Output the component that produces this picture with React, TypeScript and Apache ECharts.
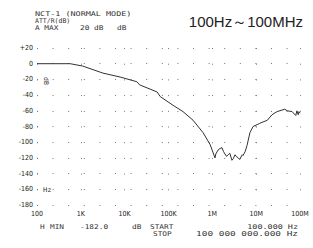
import React, { useEffect, useRef } from 'react';
import * as echarts from 'echarts';

const freqHz = [100, 570, 1100, 3200, 7900, 19000, 22000, 55000, 65000, 127000, 214000, 363000, 617000, 890000, 1150000, 1200000, 1350000, 1500000, 1660000, 1800000, 2100000, 2300000, 2500000, 2800000, 3000000, 3300000, 3500000, 3900000, 4200000, 4800000, 5000000, 5600000, 6200000, 7200000, 8500000, 12000000, 18000000, 23000000, 30000000, 45000000, 51000000, 66000000, 80000000, 85000000, 91000000, 95000000, 100000000];
const levelDb = [0, 0, -3, -12, -17, -23, -27, -36, -42, -53, -61, -72, -88, -103, -120, -115, -110, -108, -107, -112, -118, -116, -114, -123, -121, -116, -118, -120, -122, -116, -117, -112, -104, -88, -80, -76, -72, -65, -61, -58, -60, -61, -66, -60, -65, -61, -63];

const xTickValues = [100, 1000, 10000, 100000, 1000000, 10000000, 100000000];
const xTickLabels = ['100', '1K', '10K', '100K', '1M', '10M', '100M'];

const title = '100Hz～100MHz';
const headerLines = ['NCT-1 (NORMAL MODE)', 'ATT/R(dB)'];

const MONO = "'DejaVu Sans Mono', monospace";
const NARROW = "'Liberation Sans Narrow', 'DejaVu Sans Condensed', 'Liberation Sans', sans-serif";

function txt(text: string, x: number, y: number, opts: any = {}) {
  return {
    type: 'text',
    x,
    y,
    scaleX: opts.scaleX ?? 1.2,
    rotation: opts.rotation ?? 0,
    style: {
      text,
      fill: '#333',
      font: opts.font ?? `6.5px ${MONO}`,
      textAlign: opts.align ?? 'left',
      textVerticalAlign: 'middle',
    },
  };
}

export default function App() {
  const ref = useRef<HTMLDivElement>(null);
  useEffect(() => {
    if (!ref.current) return;
    const chart = echarts.init(ref.current, null, { renderer: 'svg' });
    const data = freqHz.map((f, i) => [f, levelDb[i]]);
    chart.setOption({
      animation: false,
      backgroundColor: '#fff',
      grid: { left: 37, right: 13, top: 48, bottom: 43 },
      xAxis: {
        type: 'log',
        logBase: 10,
        min: 100,
        max: 100000000,
        axisLine: { show: false },
        axisTick: { show: false },
        axisLabel: {
          margin: 5,
          fontSize: 7,
          fontFamily: NARROW,
          color: '#222',
          formatter: (v: number) => {
            const i = xTickValues.findIndex((t) => Math.abs(Math.log10(t) - Math.log10(v)) < 1e-6);
            return i >= 0 ? xTickLabels[i] : '';
          },
        },
        splitLine: { show: true, lineStyle: { color: '#777', width: 1, type: [1, 14.7] } },
      },
      yAxis: {
        type: 'value',
        min: -180,
        max: 20,
        interval: 20,
        axisLine: { show: false },
        axisTick: { show: false },
        axisLabel: {
          margin: 4,
          fontSize: 7,
          fontFamily: NARROW,
          color: '#222',
          formatter: (v: number) => (v > 0 ? '+' + v : String(v)),
        },
        splitLine: { show: true, lineStyle: { color: '#777', width: 1, type: [1, 14.6] } },
      },
      series: [
        {
          type: 'line',
          data,
          showSymbol: false,
          lineStyle: { color: '#333', width: 1 },
        },
      ],
      graphic: [
        txt(headerLines[0], 35, 14, { scaleX: 1.3 }),
        txt(headerLines[1], 35, 21, { scaleX: 1.0 }),
        txt('A MAX', 35, 28),
        txt('20 dB', 80, 28),
        txt('dB', 117, 28),
        {
          type: 'text',
          right: 10,
          top: 14,
          style: { text: title, fill: '#222', font: "15px 'Liberation Sans', Arial, sans-serif" },
        },
        txt('dB', 46, 81, { rotation: -Math.PI / 2, scaleX: 1, align: 'center' }),
        txt('Hz', 43, 190, { scaleX: 1.1 }),
        txt('H', 40, 227),
        txt('MIN', 50, 227),
        txt('-182.0', 80, 227),
        txt('dB', 132, 227),
        txt('START', 150, 227),
        txt('100.000 Hz', 298, 227, { align: 'right', scaleX: 1.3 }),
        txt('STOP', 153, 234),
        txt('100 000 000.000 Hz', 298, 234, { align: 'right', scaleX: 1.45 }),
      ],
    });
    return () => chart.dispose();
  }, []);
  return <div ref={ref} style={{ position: 'fixed', left: 0, top: 0, width: 313, height: 248 }} />;
}
